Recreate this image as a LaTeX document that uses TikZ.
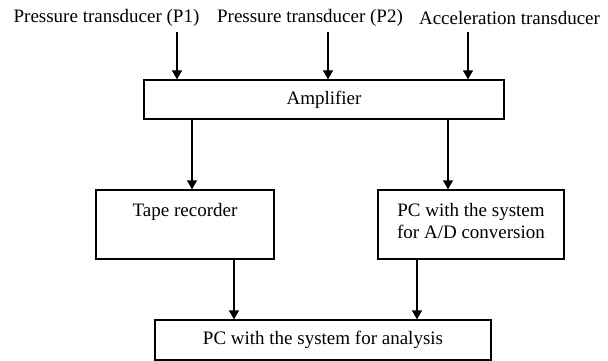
\documentclass[tikz,border=0pt]{standalone}
\usepackage{fontspec}
\setmainfont{Liberation Serif}
\usetikzlibrary{arrows.meta}
\begin{document}
\begin{tikzpicture}[x=1pt,y=-1pt,
  box/.style={draw,line width=1.3pt,inner sep=0pt,align=center,font=\fontsize{19}{22}\selectfont},
  lbl/.style={inner sep=0pt,font=\fontsize{19}{22}\selectfont},
  arr/.style={line width=1.3pt,-{Triangle[length=9pt,width=10pt]}}]
\useasboundingbox (0,0) rectangle (608,361);
% sources
\node[lbl] (p1) at (106.5,18) {Pressure transducer (P1)};
\node[lbl] (p2) at (310,18) {Pressure transducer (P2)};
\node[lbl] (acc) at (509.5,18) {Acceleration transducer};
% processing chain (the trailing short line lifts the text towards the top)
\node[box,minimum width=360pt,minimum height=39pt] (amp) at (324,99.5) {Amplifier};
\node[box,minimum width=178pt,minimum height=69pt] (tape) at (185,224.5) {Tape recorder\\\mbox{}\\[-14pt]\mbox{}};
\node[box,minimum width=186pt,minimum height=69pt] (adc) at (471,224.5) {PC with the system\\for A/D conversion\\[-14pt]\mbox{}};
\node[box,minimum width=336pt,minimum height=40pt] (pc) at (323,340) {PC with the system for analysis};
% arrow starts below the labels
\coordinate (s1) at (177,32);
\coordinate (s2) at (328,32);
\coordinate (s3) at (468,32);
\coordinate (a1) at (192,0);
\coordinate (a2) at (448,0);
\coordinate (b1) at (234,0);
\coordinate (b2) at (417,0);
% connectors
\draw[arr] (s1) -- (amp.north -| s1);
\draw[arr] (s2) -- (amp.north -| s2);
\draw[arr] (s3) -- (amp.north -| s3);
\draw[arr] (amp.south -| a1) -- (tape.north -| a1);
\draw[arr] (amp.south -| a2) -- (adc.north -| a2);
\draw[arr] (tape.south -| b1) -- (pc.north -| b1);
\draw[arr] (adc.south -| b2) -- (pc.north -| b2);
\end{tikzpicture}
\end{document}
